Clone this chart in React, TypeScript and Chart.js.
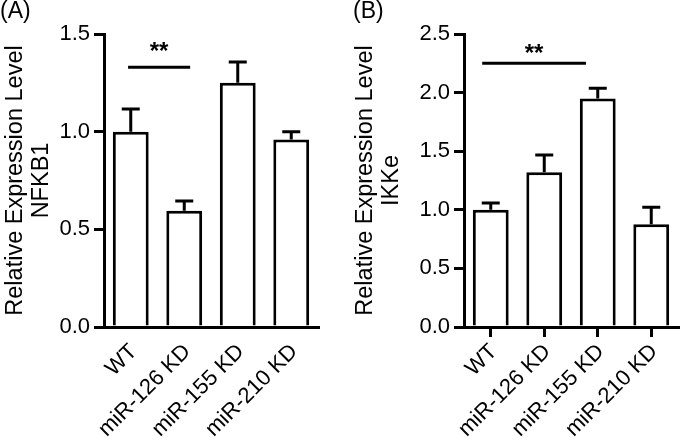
import React, { useEffect, useRef } from "react";
import { Chart, registerables } from "chart.js";

Chart.register(...registerables);

const FONT = "'Liberation Sans', Arial, Helvetica, sans-serif";

// ---- data ----
const categories = ["WT", "miR-126 KD", "miR-155 KD", "miR-210 KD"];

const nfkb1Means = [1.0, 0.595, 1.25, 0.96];
const nfkb1Errors = [0.116, 0.05, 0.107, 0.04];
const nfkb1AxisMax = 1.5;
const nfkb1Sig = { from: -0.05, to: 1.11, y: 1.33, label: "**" };

const ikkeMeans = [1.0, 1.32, 1.95, 0.877];
const ikkeErrors = [0.057, 0.147, 0.088, 0.145];
const ikkeAxisMax = 2.5;
const ikkeSig = { from: -0.16, to: 1.78, y: 2.25, label: "**" };

const tickStep = 0.5;

type PanelCfg = {
  panel: string;
  gene: string;
  means: number[];
  errors: number[];
  max: number;
  sig: { from: number; to: number; y: number; label: string };
  padLeft: number;
  padRight: number;
  yWidth: number;
  yTitlePad: number;
  xTickColor: string;
  starGap: number;
};

const panelA: PanelCfg = {
  panel: "(A)",
  gene: "NFKB1",
  means: nfkb1Means,
  errors: nfkb1Errors,
  max: nfkb1AxisMax,
  sig: nfkb1Sig,
  padLeft: 0,
  padRight: 22,
  yWidth: 104,
  yTitlePad: 3,
  xTickColor: "rgba(0,0,0,0)",
  starGap: 8,
};

const panelB: PanelCfg = {
  panel: "(B)",
  gene: "IKKe",
  means: ikkeMeans,
  errors: ikkeErrors,
  max: ikkeAxisMax,
  sig: ikkeSig,
  padLeft: 13,
  padRight: 2,
  yWidth: 111,
  yTitlePad: 0,
  xTickColor: "#000",
  starGap: 2,
};

function makePlugin(p: PanelCfg) {
  return {
    id: "errAndSig",
    afterDatasetsDraw(chart: any) {
      const { ctx } = chart;
      const x = chart.scales.x;
      const y = chart.scales.y;
      ctx.save();
      ctx.strokeStyle = "#000";
      ctx.lineWidth = 3;
      ctx.lineCap = "butt";
      p.means.forEach((m, i) => {
        const px = x.getPixelForValue(i);
        const y0 = y.getPixelForValue(m);
        const y1 = y.getPixelForValue(m + p.errors[i]);
        ctx.beginPath();
        ctx.moveTo(px, y0);
        ctx.lineTo(px, y1);
        ctx.moveTo(px - 9, y1);
        ctx.lineTo(px + 9, y1);
        ctx.stroke();
      });
      const sx0 = x.getPixelForValue(p.sig.from);
      const sx1 = x.getPixelForValue(p.sig.to);
      const sy = y.getPixelForValue(p.sig.y);
      ctx.beginPath();
      ctx.moveTo(sx0, sy);
      ctx.lineTo(sx1, sy);
      ctx.stroke();
      ctx.fillStyle = "#000";
      ctx.font = `bold 24px ${FONT}`;
      ctx.textAlign = "center";
      ctx.textBaseline = "alphabetic";
      ctx.fillText(p.sig.label, (sx0 + sx1) / 2, sy - p.starGap);
      ctx.restore();
    },
  };
}

function makeConfig(p: PanelCfg): any {
  return {
    type: "bar",
    data: {
      labels: categories,
      datasets: [
        {
          data: p.means,
          backgroundColor: "#fff",
          borderColor: "#000",
          borderWidth: 3,
          barPercentage: 0.67,
          categoryPercentage: 1,
        },
      ],
    },
    options: {
      responsive: false,
      animation: false,
      layout: { padding: { left: p.padLeft, right: p.padRight, top: 0, bottom: 0 } },
      plugins: {
        legend: { display: false },
        tooltip: { enabled: false },
        title: {
          display: true,
          text: p.panel,
          align: "start",
          color: "#000",
          font: { family: FONT, size: 23, weight: "normal", lineHeight: 1 },
          padding: { top: 0, bottom: 11 },
        },
      },
      scales: {
        x: {
          z: 1,
          grid: {
            offset: false,
            drawOnChartArea: false,
            drawTicks: true,
            tickLength: 10,
            color: p.xTickColor,
            lineWidth: 3,
          },
          border: { display: true, color: "#000", width: 3 },
          ticks: {
            color: "#000",
            font: { family: FONT, size: 22 },
            minRotation: 45,
            maxRotation: 45,
            autoSkip: false,
            padding: 2,
            labelOffset: 3,
          },
          afterFit: (s: any) => {
            s.height = 114;
          },
        },
        y: {
          min: 0,
          max: p.max,
          grid: {
            drawOnChartArea: false,
            drawTicks: true,
            tickLength: 10,
            color: "#000",
            lineWidth: 3,
          },
          border: { display: true, color: "#000", width: 3 },
          ticks: {
            stepSize: tickStep,
            color: "#000",
            font: { family: FONT, size: 22 },
            padding: 4,
            callback: (v: any) => Number(v).toFixed(1),
          },
          title: {
            display: true,
            text: ["Relative Expression Level", p.gene],
            color: "#000",
            font: { family: FONT, size: 23.5, lineHeight: 1.1 },
            padding: { top: p.yTitlePad, bottom: 0 },
          },
          afterFit: (s: any) => {
            s.width = p.yWidth;
          },
        },
      },
    },
    plugins: [makePlugin(p)],
  };
}

function Panel({ cfg }: { cfg: PanelCfg }) {
  const ref = useRef<HTMLCanvasElement | null>(null);
  useEffect(() => {
    if (!ref.current) return;
    const c = new Chart(ref.current, makeConfig(cfg));
    return () => c.destroy();
  }, [cfg]);
  return <canvas ref={ref} width={340} height={441} style={{ display: "block" }} />;
}

export default function App() {
  return (
    <div
      style={{
        position: "fixed",
        left: 0,
        top: 0,
        width: 680,
        height: 441,
        display: "flex",
        background: "#fff",
      }}
    >
      <Panel cfg={panelA} />
      <Panel cfg={panelB} />
    </div>
  );
}
